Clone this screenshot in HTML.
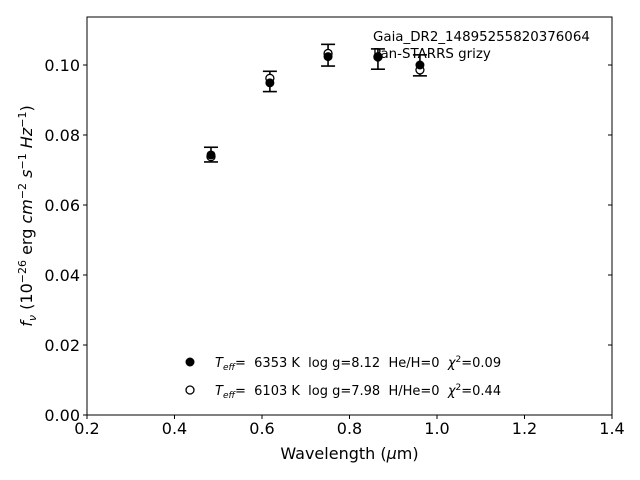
<!DOCTYPE html>
<html><head><meta charset="utf-8"><style>
body{margin:0;background:#fff;}
svg{display:block;font-family:"DejaVu Sans","Liberation Sans",sans-serif;}
svg text{white-space:pre;}
</style></head><body>
<svg id="chart" width="640" height="480" xml:space="preserve">
<rect x="87" y="17" width="525" height="398" fill="none" stroke="#000" stroke-width="1"/>
<g id="axes"></g>
<g id="marks"></g>
<text x="349.5" y="459" font-size="16" text-anchor="middle">Wavelength (<tspan font-style="italic">μ</tspan>m)</text>
<text transform="translate(32,216) rotate(-90)" font-size="16" text-anchor="middle"><tspan font-style="italic">f<tspan font-size="11" dy="4">ν</tspan></tspan><tspan dy="-4"> (10</tspan><tspan font-size="11" dy="-6">−26</tspan><tspan dy="6"> erg </tspan><tspan font-style="italic">cm</tspan><tspan font-size="11" dy="-6">−2</tspan><tspan dy="6"> </tspan><tspan font-style="italic">s</tspan><tspan font-size="11" dy="-6">−1</tspan><tspan dy="6"> </tspan><tspan font-style="italic">Hz</tspan><tspan font-size="11" dy="-6">−1</tspan><tspan dy="6">)</tspan></text>
<text x="373" y="41" font-size="13.4">Gaia_DR2_14895255820376064</text>
<text x="373" y="58" font-size="13.4">Pan-STARRS grizy</text>
<g>
<circle cx="190" cy="362" r="4.5" fill="#000"/>
<text x="215" y="367" font-size="13"><tspan font-style="italic">T<tspan font-size="9" dy="3">eff</tspan></tspan><tspan dy="-3">=  6353 K  log g=8.12  He/H=0  </tspan><tspan font-style="italic">χ</tspan><tspan font-size="9" dy="-5">2</tspan><tspan dy="5">=0.09</tspan></text>
<circle cx="190" cy="390" r="4" fill="#fff" stroke="#000" stroke-width="1.3"/>
<text x="215" y="395" font-size="13"><tspan font-style="italic">T<tspan font-size="9" dy="3">eff</tspan></tspan><tspan dy="-3">=  6103 K  log g=7.98  H/He=0  </tspan><tspan font-style="italic">χ</tspan><tspan font-size="9" dy="-5">2</tspan><tspan dy="5">=0.44</tspan></text>
</g>
</svg>
<script>
const wavelengths = [0.4834, 0.618, 0.751, 0.865, 0.961];
const obsFlux = [0.0744, 0.0953, 0.1028, 0.1017, 0.0999];
const obsErr = [0.0021, 0.0029, 0.0031, 0.0029, 0.003];
const model1Flux = [0.0743, 0.0949, 0.1024, 0.1024, 0.1000];
const model2Flux = [0.0738, 0.0962, 0.1033, 0.1023, 0.0986];
const xTicks = [0.2, 0.4, 0.6, 0.8, 1.0, 1.2, 1.4];
const yTicks = [0.00, 0.02, 0.04, 0.06, 0.08, 0.10];

const X0=87, X1=612, Y0=415, Y1=17;
const xMin=0.2, xMax=1.4, yMin=0, yMax=(415-17)/3500;
function sx(v){return X0+(v-xMin)/(xMax-xMin)*(X1-X0);}
function sy(v){return Y0-(v-yMin)/(yMax-yMin)*(Y0-Y1);}
const NS='http://www.w3.org/2000/svg';
function mk(tag,attrs,parent){const e=document.createElementNS(NS,tag);for(const k in attrs)e.setAttribute(k,attrs[k]);parent.appendChild(e);return e;}
const axes=document.getElementById('axes'), marks=document.getElementById('marks');
xTicks.forEach(t=>{
  const x=sx(t);
  const l=mk('line',{x1:x,x2:x,y1:Y0,y2:Y0+4,stroke:'#000'},axes);
  
  
  const tx=mk('text',{x:x,y:Y0+19,'font-size':16,'text-anchor':'middle'},axes);
  tx.textContent=t.toFixed(1);
  
  
});
yTicks.forEach(t=>{
  const y=sy(t);
  const l=mk('line',{x1:X0-4,x2:X0,y1:y,y2:y,stroke:'#000'},axes);
  
  
  const r=mk('line',{x1:X1,x2:X1-4,y1:y,y2:y,stroke:'#000'},axes);
  
  
  const tx=mk('text',{x:X0-7,y:y+6,'font-size':16,'text-anchor':'end'},axes);
  tx.textContent=t.toFixed(2);
  
  
});
wavelengths.forEach((w,i)=>{
  const x=sx(w);
  const g=mk('g',{},marks);
  
  
  const yt=sy(obsFlux[i]+obsErr[i]), yb=sy(obsFlux[i]-obsErr[i]);
  mk('line',{x1:x,x2:x,y1:yt,y2:yb,stroke:'#000','stroke-width':1.6},g);
  mk('line',{x1:x-7,x2:x+7,y1:yt,y2:yt,stroke:'#000','stroke-width':1.6},g);
  mk('line',{x1:x-7,x2:x+7,y1:yb,y2:yb,stroke:'#000','stroke-width':1.6},g);
  const o=mk('circle',{cx:x,cy:sy(model2Flux[i]),r:4,fill:'#fff',stroke:'#000','stroke-width':1.3},marks);
  
  
  const f=mk('circle',{cx:x,cy:sy(model1Flux[i]),r:4.5,fill:'#000'},marks);
  
  
});
</script>
</body></html>
